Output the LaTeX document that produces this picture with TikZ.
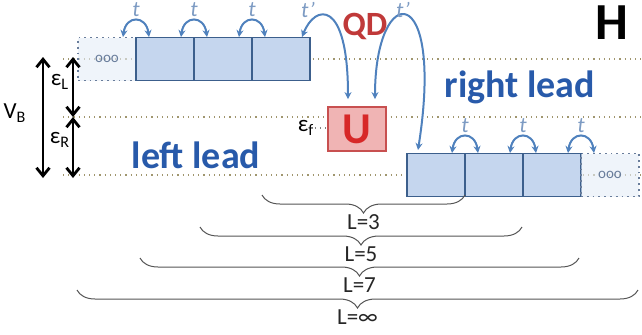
\documentclass[tikz,border=0pt]{standalone}
\usepackage{fontspec}
\setmainfont{Carlito}
\usepackage{xcolor}
\usetikzlibrary{arrows.meta,positioning,calc,decorations.pathreplacing}

\definecolor{sitefill}{RGB}{197,214,238}
\definecolor{siteline}{RGB}{60,95,140}
\definecolor{bathfill}{RGB}{228,236,247}
\definecolor{bathline}{RGB}{105,125,155}
\definecolor{hopblue}{RGB}{79,129,189}
\definecolor{hoptext}{RGB}{125,155,195}
\definecolor{levelcol}{RGB}{160,150,110}
\definecolor{dotfill}{RGB}{240,180,180}
\definecolor{dotline}{RGB}{200,80,80}
\definecolor{dottext}{RGB}{215,40,40}
\definecolor{qdred}{RGB}{192,57,57}
\definecolor{leadblue}{RGB}{40,90,170}
\definecolor{bracecol}{RGB}{85,85,85}

\begin{document}
\begin{tikzpicture}[x=5pt,y=5pt,
    site/.style={draw=siteline,fill=sitefill,line width=0.9pt,minimum width=29pt,
      minimum height=21.5pt,inner sep=0pt,outer sep=0pt},
    bath/.style={site,draw=bathline,dotted,fill=bathfill,fill opacity=0.6,text opacity=1,
      text=bathline,font=\fontsize{7.5}{8}\selectfont},
    hop/.style={<->,>={Stealth[length=3.5pt,width=3.5pt]},hopblue,line width=1pt},
    hoplabel/.style={text=hoptext,font=\itshape\fontsize{11}{11}\selectfont,inner sep=0pt},
    level/.style={levelcol,dotted,line width=0.6pt},
    gap/.style={<->,>={Straight Barb[length=4pt,width=6.5pt]},line width=1.4pt},
    sym/.style={font=\fontsize{11.5}{13}\selectfont,inner sep=0pt},
    lead/.style={text=leadblue,font=\bfseries\fontsize{19}{19}\selectfont,anchor=base},
    size/.style={decorate,decoration={brace,mirror,amplitude=9pt},bracecol,line width=0.5pt},
  ]
  \useasboundingbox (0,0) rectangle (64.2,33.4);

  % Energy levels of the two leads
  \draw[level] (6.3,27.5) -- (64.2,27.5);
  \draw[level] (6.3,21.7) -- (64.2,21.7);
  \draw[level] (6.3,15.9) -- (64.2,15.9);

  % Left lead
  \node[bath] (L0) at (10.7,27.5) {ooo};
  \node[site,right=0pt of L0] (L1) {};
  \node[site,right=0pt of L1] (L2) {};
  \node[site,right=0pt of L2] (L3) {};

  % Right lead
  \node[site] (R1) at (43.6,15.9) {};
  \node[site,right=0pt of R1] (R2) {};
  \node[site,right=0pt of R2] (R3) {};
  \node[bath,right=0pt of R3] (R4) {ooo};

  % Quantum dot
  \node[draw=dotline,fill=dotfill,line width=0.9pt,minimum width=29pt,minimum height=22pt,
    text=dottext,font=\bfseries\fontsize{22}{22}\selectfont] (U) at (35.7,20.5) {U};
  \node[sym] (ef) at (30.6,20.6) {ε\textsubscript{f}};
  \draw[gray,dotted,line width=0.6pt] (ef.east) -- (ef.east -| U.west);

  % Hoppings inside the leads
  \foreach \c in {L0,L1,L2,R1,R2,R3} {
    \draw[hop] ($(\c.north east)+(-1.3,0.05)$) .. controls +(0.3,2.2) and +(-0.3,2.2) ..
      ($(\c.north east)+(1.3,0.05)$);
    \node[hoplabel] (t\c) at ($(\c.north east)+(0,2.75)$) {t};
  }

  % Hoppings onto the dot
  \draw[hop] ($(L3.north east)+(-0.8,0.05)$) .. controls +(1.3,3.3) and +(0,10.1) ..
    ($(U.north)+(-0.9,0.7)$);
  \draw[hop] ($(U.north)+(1.8,0.7)$) .. controls +(0,11.8) and +(2.7,17.2) ..
    ($(R1.north west)+(1.1,0.35)$);
  \node[hoplabel] (tpL) at (30.8,32.4) {t’};
  \node[hoplabel] (tpR) at (40.3,32.4) {t’};

  % Labels
  \node[text=qdred,font=\bfseries\fontsize{17}{17}\selectfont] (QD) at (36.5,30.8) {QD};
  \node[font=\bfseries\fontsize{26}{26}\selectfont] (H) at (61.2,31.1) {H};
  \node[lead] (left) at (19.6,16.6) {left lead};
  \node[lead] (right) at (52.0,23.7) {right lead};

  % Bias window
  \coordinate (muL) at (7.3,27.7);
  \coordinate (mid) at (7.3,21.7);
  \coordinate (muR) at (7.3,15.6);
  \draw[gap] ($(muL)+(-3,0)$) -- ($(muR)+(-3,0)$);
  \draw[gap] (muL) -- (mid);
  \draw[gap] (mid) -- (muR);
  \node[sym] (VB) at (1.5,22.1) {V\textsubscript{B}};
  \node[sym] (eL) at (6.0,25.2) {ε\textsubscript{L}};
  \node[sym] (eR) at (6.0,19.4) {ε\textsubscript{R}};

  % System sizes
  \foreach \a/\b/\y/\n [count=\k] in {26.2/46.5/13.9/3,20.0/52.2/10.7/5,14.0/57.9/7.6/7,7.7/63.8/4.4/∞} {
    \draw[size] (\a,\y) -- (\b,\y)
      node[midway,yshift=-13.5pt,text=black!85,font=\fontsize{11.5}{12}\selectfont] (size\k) {L=\n};
  }
\end{tikzpicture}
\end{document}
